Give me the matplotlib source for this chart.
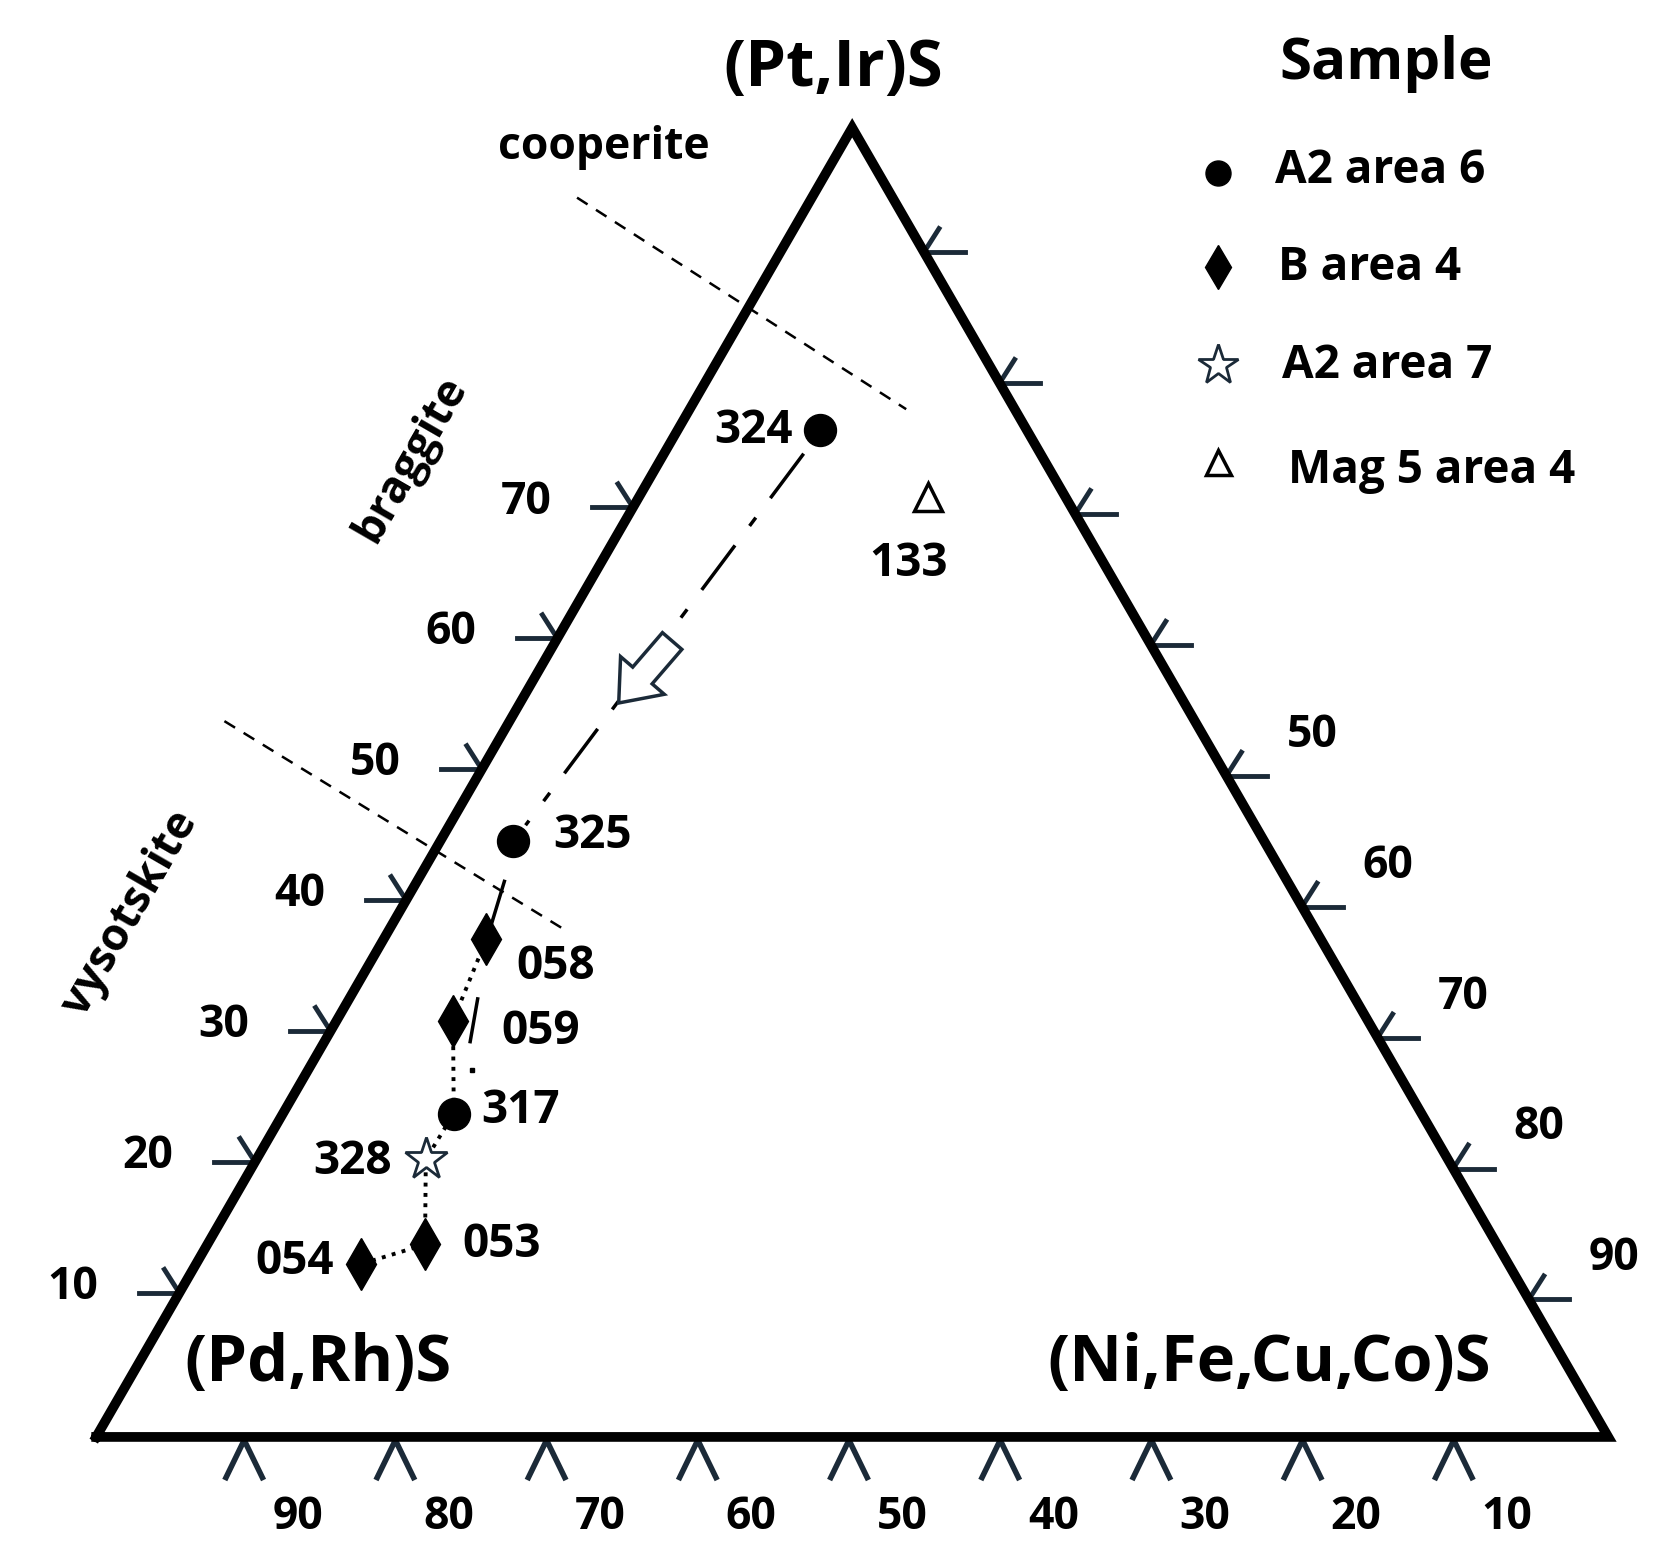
import numpy as np
import matplotlib
matplotlib.use('Agg')
import matplotlib.pyplot as plt
from matplotlib.patches import FancyArrow

# ── Ternary data: fractions of (Pt,Ir)S (top) and (Ni,Fe,Cu,Co)S (right) ──
A6_labels = ['324', '325', '317']
A6_pt = [0.769, 0.455, 0.247]
A6_ni = [0.094, 0.048, 0.113]

B4_labels = ['058', '059', '053', '054']
B4_pt = [0.380, 0.318, 0.147, 0.132]
B4_ni = [0.068, 0.077, 0.144, 0.109]

A7_labels = ['328']
A7_pt = [0.212]
A7_ni = [0.112]

M5_labels = ['133']
M5_pt = [0.718]
M5_ni = [0.191]

LEFT_TICKS = [10, 20, 30, 40, 50, 60, 70]
RIGHT_TICKS = [50, 60, 70, 80, 90]
BOTTOM_TICKS = [90, 80, 70, 60, 50, 40, 30, 20, 10]

# triangle geometry in display-like units
X0, X1, YB = 90, 1505, 1345
SIDE = X1 - X0
H = SIDE * np.sqrt(3) / 2
DARK = '#1b2a38'
FONT = 'Open Sans'


def xy(pt, ni):
    pt = np.asarray(pt, float)
    ni = np.asarray(ni, float)
    return X0 + SIDE * (ni + pt / 2), YB - H * pt


fig = plt.figure(figsize=(16.67, 15.63), dpi=100)
ax = fig.add_axes([0, 0, 1, 1])
ax.set_xlim(0, 1560)
ax.set_ylim(1463, 0)
ax.axis('off')

# triangle
tx, ty = xy([0, 1, 0, 0], [0, 0, 1, 0])
ax.plot(tx, ty, color='black', lw=7, solid_joinstyle='miter', zorder=3)

num = dict(fontsize=32, fontweight='bold', family=FONT, ha='center', va='center')

# left ticks (single barb pointing into side)
for v in LEFT_TICKS:
    t = v / 100 + 0.01
    x, y = xy(t, 0)
    ax.plot([x - 38, x], [y, y], color=DARK, lw=3.5, zorder=2)
    ax.plot([x - 14, x], [y - 22, y], color=DARK, lw=3.5, zorder=2)
    ax.text(x - 100, y - 5, str(v), **num)

# right ticks
for k in range(1, 10):
    t = k / 10 + 0.005
    x, y = X1 - SIDE * t / 2, YB - H * t
    ax.plot([x, x + 38], [y, y], color=DARK, lw=3.5, zorder=2)
    ax.plot([x + 14, x], [y - 22, y], color=DARK, lw=3.5, zorder=2)
for v in RIGHT_TICKS:
    t = (100 - v) / 100 + 0.005
    x, y = X1 - SIDE * t / 2, YB - H * t
    ax.text(x + 80, y - 38, str(v), **num)

# bottom ticks (chevrons)
for i, v in enumerate(BOTTOM_TICKS):
    x = X0 + SIDE * (i + 1) / 10 - 3
    ax.plot([x - 17, x, x + 17], [YB + 38, YB + 3, YB + 38], color=DARK, lw=4, zorder=2)
    ax.text(x + 50, YB + 75, str(v), **num)

# field boundaries
ax.plot([540, 848], [185, 383], '--', color='black', lw=1.8, dashes=(5, 4))
ax.plot([210, 528], [675, 870], '--', color='black', lw=1.8, dashes=(5, 4))

# trend lines
p324 = xy(A6_pt[0], A6_ni[0]); p325 = xy(A6_pt[1], A6_ni[1])
ax.plot([p324[0] - 15, p325[0] + 12], [p324[1] + 22, p325[1] - 15],
        color='black', lw=2.5, dashes=(16, 7, 3, 7))
ax.add_patch(FancyArrow(629, 600, -50, 58, width=24, head_width=54, head_length=34,
                        length_includes_head=True, fc='white', ec=DARK, lw=2.5, zorder=4))
p058 = xy(B4_pt[0], B4_ni[0])
ax.plot([472, p058[0] + 2], [825, p058[1] - 5], color='black', lw=2.5)
ax.plot([447, 440], [935, 975], color='black', lw=2.5)
ax.plot([442], [1002], 's', color='black', ms=2.5)
path_pt = [B4_pt[0], B4_pt[1], A6_pt[2], A7_pt[0], B4_pt[2], B4_pt[3]]
path_ni = [B4_ni[0], B4_ni[1], A6_ni[2], A7_ni[0], B4_ni[2], B4_ni[3]]
px, py = xy(path_pt, path_ni)
ax.plot(px, py, ':', color='black', lw=2.8)

# markers
x, y = xy(A6_pt, A6_ni)
ax.plot(x, y, 'o', color='black', ms=23, ls='none', zorder=4)
x, y = xy(B4_pt, B4_ni)
ax.plot(x, y, 'd', color='black', ms=26, ls='none', zorder=4)
x, y = xy(A7_pt, A7_ni)
ax.plot(x, y, '*', mfc='white', mec=DARK, mew=2, ms=32, ls='none', zorder=4)
x, y = xy(M5_pt, M5_ni)
ax.plot(x, y, '^', mfc='white', mec='black', mew=2.5, ms=20, ls='none', zorder=4)

# point labels
lab = dict(fontsize=33, fontweight='bold', family=FONT, va='center')
for name, dx, dy, ha in [('324', -25, 0, 'right'), ('325', 38, -5, 'left'),
                         ('317', 26, -3, 'left')]:
    i = A6_labels.index(name)
    x, y = xy(A6_pt[i], A6_ni[i])
    ax.text(x + dx, y + dy, name, ha=ha, **lab)
for name, dx, dy, ha in [('058', 28, 25, 'left'), ('059', 45, 10, 'left'),
                         ('053', 35, 0, 'left'), ('054', -25, -2, 'right')]:
    i = B4_labels.index(name)
    x, y = xy(B4_pt[i], B4_ni[i])
    ax.text(x + dx, y + dy, name, ha=ha, **lab)
x, y = xy(A7_pt[0], A7_ni[0])
ax.text(x - 32, y + 2, A7_labels[0], ha='right', **lab)
x, y = xy(M5_pt[0], M5_ni[0])
ax.text(x - 18, y + 62, M5_labels[0], ha='center', **lab)

# vertex and field labels
big = dict(fontsize=47, fontweight='bold', family=FONT, va='center')
ax.text(780, 65, '(Pt,Ir)S', ha='center', **big)
ax.text(298, 1277, '(Pd,Rh)S', ha='center', **big)
ax.text(1188, 1277, '(Ni,Fe,Cu,Co)S', ha='center', **big)
fld = dict(fontsize=32, fontweight='bold', family=FONT, va='center', ha='center')
ax.text(565, 138, 'cooperite', **fld)
ax.text(385, 430, 'braggite', rotation=60, **fld)
ax.text(122, 855, 'vysotskite', rotation=60, **fld)

# legend
ax.text(1297, 60, 'Sample', fontsize=42, fontweight='bold', family=FONT,
        ha='center', va='center')
ax.plot([1140], [162], 'o', color='black', ms=18)
ax.plot([1140], [250], 'd', color='black', ms=22)
ax.plot([1140], [342], '*', mfc='white', mec=DARK, mew=2, ms=30)
ax.plot([1140], [432], '^', mfc='white', mec='black', mew=2.5, ms=18)
leg = dict(fontsize=33, fontweight='bold', family=FONT, va='center', ha='left')
ax.text(1193, 160, 'A2 area 6', **leg)
ax.text(1196, 250, 'B area 4', **leg)
ax.text(1200, 342, 'A2 area 7', **leg)
ax.text(1205, 440, 'Mag 5 area 4', **leg)

fig.savefig('out.png', dpi=100)
